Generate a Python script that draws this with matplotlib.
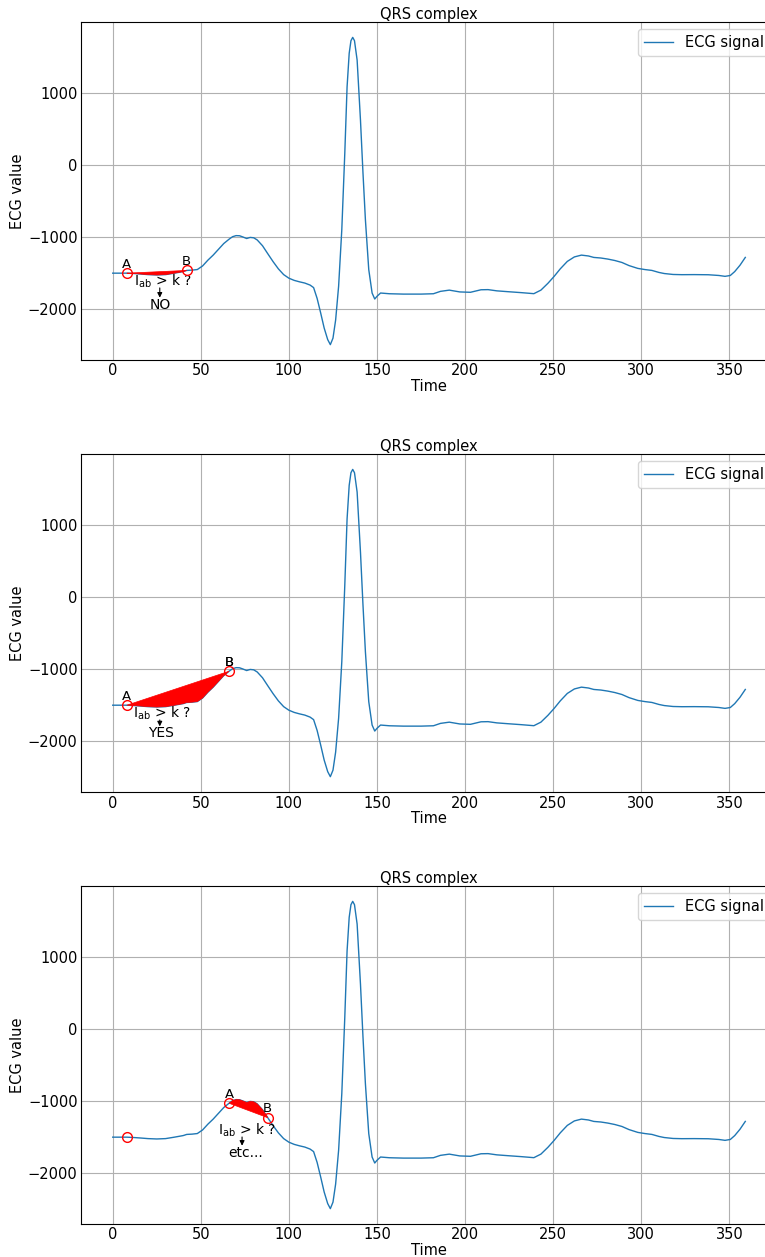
import matplotlib.pyplot as plt

# ECG trace (time index, value)
time = [0, 4, 8, 12, 16, 20, 25, 30, 35, 40, 42, 45, 48, 51, 54, 57, 60, 63, 66,
        68, 70, 72, 74, 76, 78, 80, 82, 85, 88, 91, 94, 97, 100, 103, 106, 109,
        112, 114, 116, 118, 120, 122, 123.5, 125, 126.5, 128.2, 130, 131.7, 133,
        134.2, 135.2, 136.2, 137.2, 138.7, 140.6, 142, 143.4, 145.3, 147.2, 148.7,
        150, 152, 157, 165, 175, 182, 186, 191, 197, 203, 209, 213, 218, 224, 232,
        239, 243, 247, 250.5, 254, 258, 262, 266, 270, 273, 277, 281, 285, 289,
        293, 298, 302, 306, 310, 313, 318, 323, 330, 338, 344, 347.5, 350.5, 353,
        356, 359]
ecg = [-1500, -1500, -1500, -1505, -1512, -1520, -1525, -1520, -1500, -1478,
       -1462, -1458, -1450, -1400, -1320, -1250, -1170, -1090, -1030,
       -995, -980, -982, -1000, -1020, -1005, -1010, -1040, -1120, -1231, -1340,
       -1440, -1520, -1570, -1600, -1620, -1637,
       -1665, -1700, -1850, -2050, -2260, -2420, -2490, -2400, -2150, -1680, -900,
       160, 1080, 1545, 1720, 1766, 1720, 1452, 620, -100, -760, -1450, -1775,
       -1858, -1820, -1775, -1785, -1790, -1790, -1785, -1752, -1735, -1760, -1765,
       -1730, -1728, -1745, -1756, -1770, -1784, -1735, -1640, -1545, -1440,
       -1337, -1275, -1250, -1262, -1282, -1290, -1305, -1325, -1352, -1395,
       -1434, -1450, -1462, -1490, -1505, -1518, -1521, -1520, -1522, -1532,
       -1544, -1532, -1478, -1390, -1282]

# per panel: chord start A / end B (times on the trace), and the test text
a_times = [8, 8, 66]
b_times = [42, 66, 88]
old_marks = [[], [], [8]]
verdicts = ["NO", "YES", "etc..."]
note_t = [28.5, 28, 76.3]
note_v = [-1618, -1618, -1411]
verdict_t = [26.7, 27.3, 75.7]
verdict_v = [-1936, -1890, -1715]
arrow_t = [26.7, 26.7, 73.4]

xticks = [0, 50, 100, 150, 200, 250, 300, 350]
yticks = [-2000, -1000, 0, 1000]

plt.rcParams['font.size'] = 10.5

fig = plt.figure(figsize=(7.65, 12.57), dpi=100)
bottoms = [0.7136, 0.3699, 0.02625]

for i, bottom in enumerate(bottoms):
    ax = fig.add_axes([0.1059, bottom, 0.9098, 0.2689])
    ax.plot(time, ecg, color='#1f77b4', lw=1, label='ECG signal')

    ia = time.index(a_times[i])
    ib = time.index(b_times[i])
    # area between chord A-B and the trace
    ax.fill(time[ia:ib + 1], ecg[ia:ib + 1], color='red', lw=0.5, zorder=3)

    for t in old_marks[i]:
        j = time.index(t)
        ax.plot(time[j], ecg[j], 'o', ms=7, mfc='none', mec='red', zorder=4)
    ax.plot([time[ia], time[ib]], [ecg[ia], ecg[ib]], 'o', ms=7,
            mfc='none', mec='red', zorder=4)

    ax.annotate('A', (time[ia], ecg[ia]), xytext=(0, 4), textcoords='offset points',
                ha='center', va='baseline', fontsize=9.5)
    nb = 2 if i == 1 else 1
    for _ in range(nb):
        ax.annotate('B', (time[ib], ecg[ib]), xytext=(0, 4), textcoords='offset points',
                    ha='center', va='baseline', fontsize=9.5)

    ax.text(note_t[i], note_v[i], r'I$_\mathrm{ab}$ > k ?', ha='center',
            va='center', fontsize=10)
    ax.text(verdict_t[i], verdict_v[i], verdicts[i], ha='center', va='center',
            fontsize=10)
    ax.annotate('', xy=(arrow_t[i], verdict_v[i]), xytext=(arrow_t[i], note_v[i]),
                arrowprops=dict(arrowstyle='-|>', color='black', lw=0.8,
                                mutation_scale=7, shrinkA=4.5, shrinkB=5))

    ax.set_xlim(-18, 377)
    ax.set_xticks(xticks)
    ax.set_yticks(yticks)
    ax.spines['right'].set_visible(False)
    ax.tick_params(length=0, pad=2.5)
    ax.grid(True, color='#b0b0b0', lw=0.8)
    ax.set_title('QRS complex', fontsize=10.5, pad=2)
    ax.set_xlabel('Time', labelpad=0.5)
    ax.set_ylabel('ECG value', labelpad=2)
    ax.legend(loc='upper right')

fig.savefig('out.png', dpi=100)
